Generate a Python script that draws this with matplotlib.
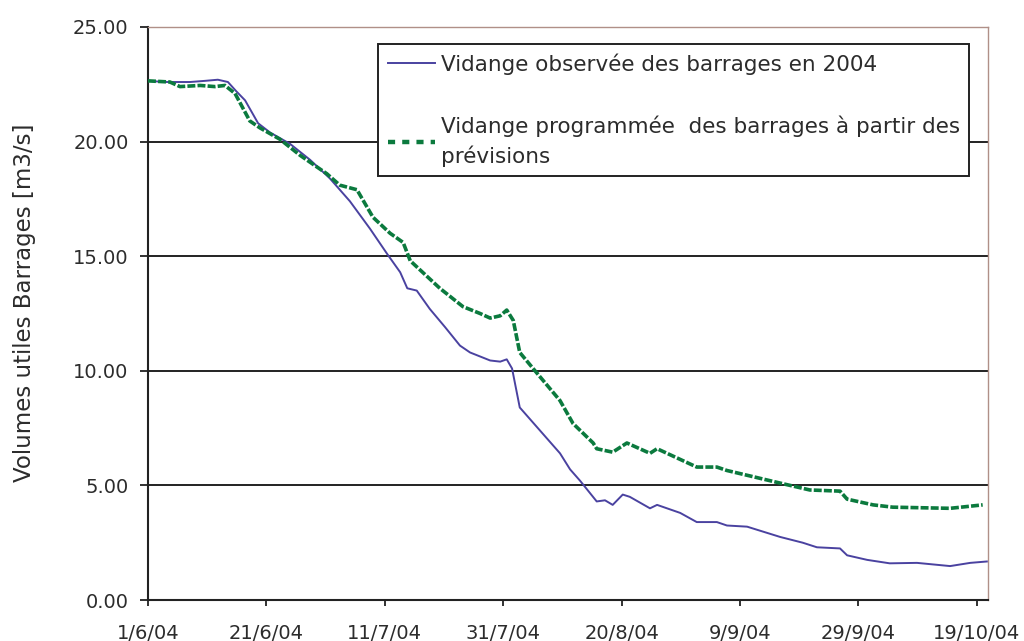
import datetime as dt
import matplotlib
matplotlib.use("Agg")
import matplotlib.pyplot as plt
import matplotlib.dates as mdates
from matplotlib.lines import Line2D
from matplotlib.ticker import FixedLocator, FuncFormatter

plt.rcParams['font.family'] = ['DejaVu Sans']

START = dt.datetime(2004, 6, 1)

# Observed reservoir drawdown 2004: (days since 1 June, volume)
obs_days = [0, 2.9, 7.1, 9.6, 11.8, 13.5, 14.9, 16.4, 18.6, 20.6, 24.0, 27.4, 30.7,
            34.1, 37.5, 40.4, 42.6, 43.8, 45.4, 47.6, 50.2, 52.7, 54.4, 57.8, 59.5,
            60.6, 61.5, 62.8, 66.2, 69.6, 71.3, 73.0, 75.8, 77.2, 78.5, 80.2, 81.4,
            84.8, 86.0, 89.9, 92.7, 96.1, 97.8, 101.2, 106.8, 110.6, 113.0, 116.9,
            118.1, 121.5, 125.3, 129.9, 135.5, 138.9, 141.7]
obs_vals = [22.65, 22.6, 22.6, 22.65, 22.7, 22.6, 22.2, 21.8, 20.8, 20.4, 19.9, 19.2,
            18.4, 17.4, 16.2, 15.1, 14.3, 13.6, 13.5, 12.7, 11.9, 11.1, 10.8, 10.45,
            10.4, 10.5, 10.1, 8.4, 7.4, 6.4, 5.7, 5.2, 4.3, 4.35, 4.15, 4.6, 4.5, 4.0,
            4.15, 3.8, 3.4, 3.4, 3.25, 3.2, 2.75, 2.5, 2.3, 2.25, 1.95, 1.75, 1.6,
            1.62, 1.48, 1.62, 1.68]

# Drawdown programmed from forecasts
prog_days = [0, 3.7, 5.4, 8.8, 11.3, 13.0, 14.7, 17.2, 18.9, 22.3, 25.7, 28.5, 30.2,
             32.4, 35.3, 38.0, 40.9, 43.1, 44.3, 46.8, 49.3, 53.2, 56.1, 57.8, 59.5,
             60.6, 61.7, 62.8, 65.7, 69.6, 71.8, 75.2, 75.8, 78.5, 80.9, 84.8, 86.0,
             92.7, 96.1, 97.8, 106.8, 111.8, 116.9, 118.1, 122.5, 125.8, 135.5, 141.0]
prog_vals = [22.65, 22.6, 22.4, 22.45, 22.4, 22.45, 22.1, 20.9, 20.6, 20.1, 19.4, 18.9,
             18.6, 18.1, 17.9, 16.7, 16.0, 15.6, 14.8, 14.2, 13.6, 12.8, 12.5, 12.3,
             12.4, 12.65, 12.2, 10.8, 9.9, 8.7, 7.7, 6.85, 6.6, 6.45, 6.85, 6.4, 6.6,
             5.8, 5.8, 5.65, 5.1, 4.8, 4.75, 4.4, 4.15, 4.05, 4.0, 4.15]

tick_dates = [dt.datetime(2004, 6, 1), dt.datetime(2004, 6, 21), dt.datetime(2004, 7, 11),
              dt.datetime(2004, 7, 31), dt.datetime(2004, 8, 20), dt.datetime(2004, 9, 9),
              dt.datetime(2004, 9, 29), dt.datetime(2004, 10, 19)]
y_ticks = [0, 5, 10, 15, 20, 25]

obs_label = "Vidange observée des barrages en 2004"
prog_label = "Vidange programmée  des barrages à partir des\nprévisions"
y_label = "Volumes utiles Barrages [m3/s]"

BLUE = "#4a42a0"
GREEN = "#0b7a3e"
TEXT = "#2c2c2c"


def to_dates(days):
    return [START + dt.timedelta(days=d) for d in days]


fig = plt.figure(figsize=(10.24, 6.41), dpi=100)
ax = fig.add_axes([148 / 1024, 41 / 641, 840 / 1024, 573 / 641])

ax.plot(to_dates(obs_days), obs_vals, color=BLUE, lw=1.4, zorder=3)
ax.plot(to_dates(prog_days), prog_vals, color=GREEN, lw=2.6,
        dashes=(2.2, 0.6), zorder=3)

ax.set_xlim(START, START + dt.timedelta(days=141.9))
ax.set_ylim(0, 25)

ax.xaxis.set_major_locator(FixedLocator(mdates.date2num(tick_dates)))
ax.xaxis.set_major_formatter(FuncFormatter(
    lambda v, p: (lambda d: f"{d.day}/{d.month}/{d.strftime('%y')}")(mdates.num2date(v))))
ax.set_yticks(y_ticks)
ax.yaxis.set_major_formatter(FuncFormatter(lambda v, p: f"{v:.2f}"))

for y in y_ticks[1:-1]:
    ax.axhline(y, color="#222222", lw=1.4, zorder=1)

for side in ("left", "bottom"):
    ax.spines[side].set_color("#222222")
    ax.spines[side].set_linewidth(1.5)
for side in ("top", "right"):
    ax.spines[side].set_color("#b09088")
    ax.spines[side].set_linewidth(1.0)

ax.tick_params(axis="both", direction="out", width=1.3, color="#222222",
               labelsize=14, labelcolor=TEXT)
ax.tick_params(axis="y", length=6, pad=8)
ax.tick_params(axis="x", length=4, pad=13)

ax.set_ylabel(y_label, fontsize=16.5, color=TEXT)
ax.yaxis.set_label_coords(-0.133, 0.518)

handles = [Line2D([], [], color=BLUE, lw=1.4),
           Line2D([], [], color=GREEN, lw=3.2, dashes=(1.6, 1.6))]
leg = ax.legend(handles, [obs_label, prog_label], loc="upper left",
                bbox_to_anchor=(0.274, 0.971), fontsize=15.5, frameon=True,
                fancybox=False, edgecolor="#222222", framealpha=1,
                labelspacing=1.9, handlelength=2.2, handletextpad=0.25,
                borderpad=0.45, borderaxespad=0)
leg.get_frame().set_linewidth(1.4)
for t in leg.get_texts():
    t.set_color(TEXT)
    t.set_linespacing(1.45)

fig.savefig("out.png", dpi=100)
